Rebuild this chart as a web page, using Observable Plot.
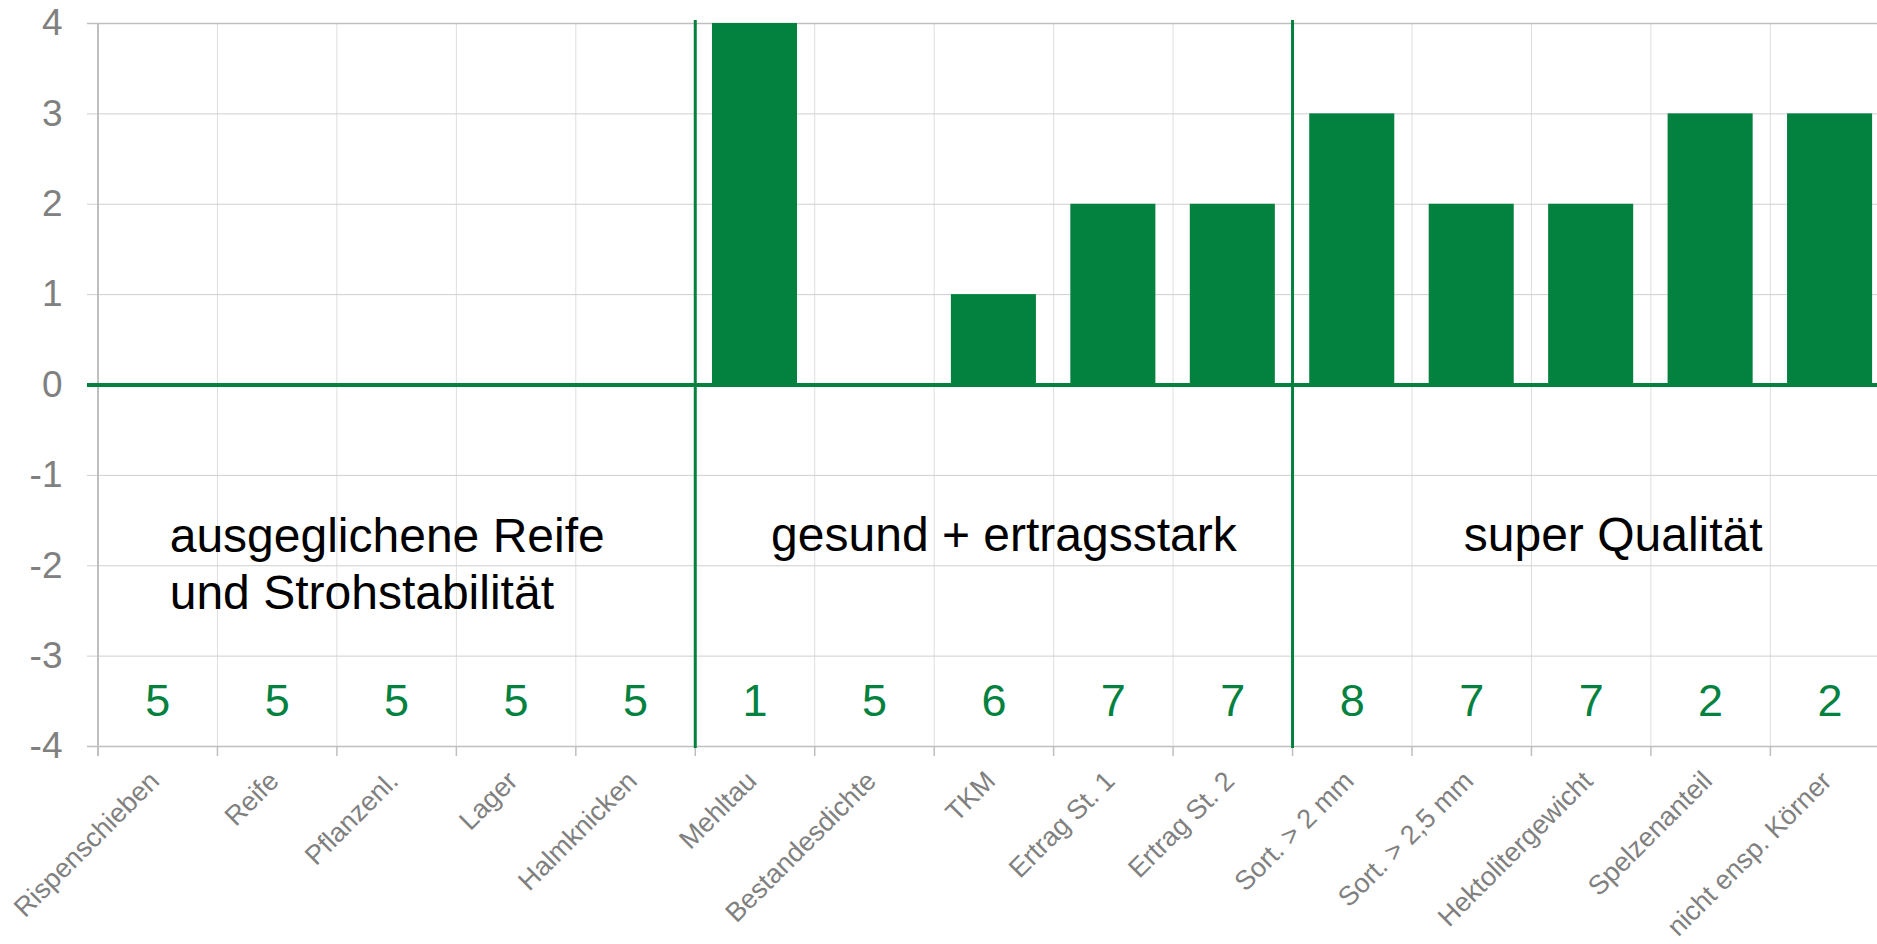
<!DOCTYPE html>
<html><head><meta charset="utf-8">
<script src="https://cdn.jsdelivr.net/npm/d3@7"></script>
<script src="https://cdn.jsdelivr.net/npm/@observablehq/plot@0.6"></script>
<style>
html,body{margin:0;padding:0;overflow:hidden;background:#fff;}
#chart svg{overflow:hidden;display:block;}
</style></head><body><div id="chart"></div>
<script>
const categories = ["Rispenschieben","Reife","Pflanzenl.","Lager","Halmknicken","Mehltau","Bestandesdichte","TKM","Ertrag St. 1","Ertrag St. 2","Sort. > 2 mm","Sort. > 2,5 mm","Hektolitergewicht","Spelzenanteil","nicht ensp. Körner"];
const values = [0,0,0,0,0,4,0,1,2,2,3,2,2,3,3];
const scores = [5,5,5,5,5,1,5,6,7,7,8,7,7,2,2];
const groupStarts = ["Mehltau","Sort. > 2 mm"];
const groupLabels = ["ausgeglichene Reife\nund Strohstabilität","gesund + ertragsstark","super Qualität"];
const groupAnchors = ["Rispenschieben","TKM","Hektolitergewicht"];
const yTicks = [-4,-3,-2,-1,0,1,2,3,4];

const table = categories.map((c,i)=>({cat:c, value:values[i], score:scores[i]}));

const W = 1877, H = 944;
const xRange = [97.5, 1889.3];
const pIn = 0.288, pOut = 0.144;
const step = (xRange[1]-xRange[0])/(categories.length - pIn + 2*pOut);
const half = step/2;
const green = "#03813f";
const gray = "#808080";

const chart = Plot.plot({
  width: W, height: H,
  marginLeft: 97, marginRight: 0, marginTop: 23, marginBottom: 198,
  style: {fontFamily: "'Liberation Sans', Arial, sans-serif", background: "#fff"},
  x: {domain: categories, range: xRange, paddingInner: pIn, paddingOuter: pOut, align: 0.5, round: false, axis: null},
  y: {domain: [-4, 4], axis: null},
  marks: [
    // vertical gridlines at category boundaries
    Plot.ruleX(categories.slice(1), {x: d=>d, dx: -half, y1: 4, y2: -4, stroke: "#dedede", strokeWidth: 1}),
    // horizontal gridlines
    Plot.ruleY(yTicks.filter(t => t !== 0 && Math.abs(t) !== 4), {y: d=>d, stroke: "#cfcfcf", strokeWidth: 1, insetLeft: -10}),
    Plot.ruleY(yTicks.filter(t => Math.abs(t) === 4), {y: d=>d, stroke: "#bfbfbf", strokeWidth: 1.6, insetLeft: -10}),
    // x ticks at boundaries
    Plot.ruleX(categories, {x: d=>d, dx: -half, y1: -4, y2: -4, insetBottom: -10, stroke: "#bfbfbf", strokeWidth: 1.5}),
    // y axis line
    Plot.ruleX([categories[0]], {x: d=>d, dx: -half, y1: 4, y2: -4, insetBottom: -10, stroke: "#bfbfbf", strokeWidth: 2}),
    // bars
    Plot.barY(table, {x: "cat", y: "value", fill: green}),
    // zero line
    Plot.ruleY([0], {stroke: green, strokeWidth: 4, insetLeft: -10}),
    // group separators
    Plot.ruleX(groupStarts, {x: d=>d, dx: -half, y1: 4, y2: -4, insetTop: -3, insetBottom: -2, stroke: green, strokeWidth: 3}),
    // score row
    Plot.text(table, {x: "cat", y: -3.5, text: d => String(d.score), fill: green, fontSize: 45, lineAnchor: "middle"}),
    // group labels
    Plot.text([groupLabels[0]], {x: () => groupAnchors[0], y: -1.96, text: d=>d, textAnchor: "start", lineAnchor: "middle", lineHeight: 1.2, dx: 12, fontSize: 48, fill: "#000"}),
    Plot.text([groupLabels[1]], {x: () => groupAnchors[1], y: -1.67, text: d=>d, textAnchor: "middle", lineAnchor: "middle", dx: 10, fontSize: 48, fill: "#000"}),
    Plot.text([groupLabels[2]], {x: () => groupAnchors[2], y: -1.67, text: d=>d, textAnchor: "middle", lineAnchor: "middle", dx: 22, fontSize: 48, fill: "#000"}),
    // y tick labels
    Plot.text(yTicks, {y: d=>d, text: d=>String(d), frameAnchor: "left", dx: -35, textAnchor: "end", lineAnchor: "middle", fill: gray, fontSize: 37}),
    // x tick labels
    Plot.text(table, {x: "cat", text: "cat", frameAnchor: "bottom", rotate: -45, textAnchor: "end", lineAnchor: "middle", dx: -3, dy: 30, fill: gray, fontSize: 27})
  ]
});
document.getElementById("chart").appendChild(chart);
</script></body></html>
